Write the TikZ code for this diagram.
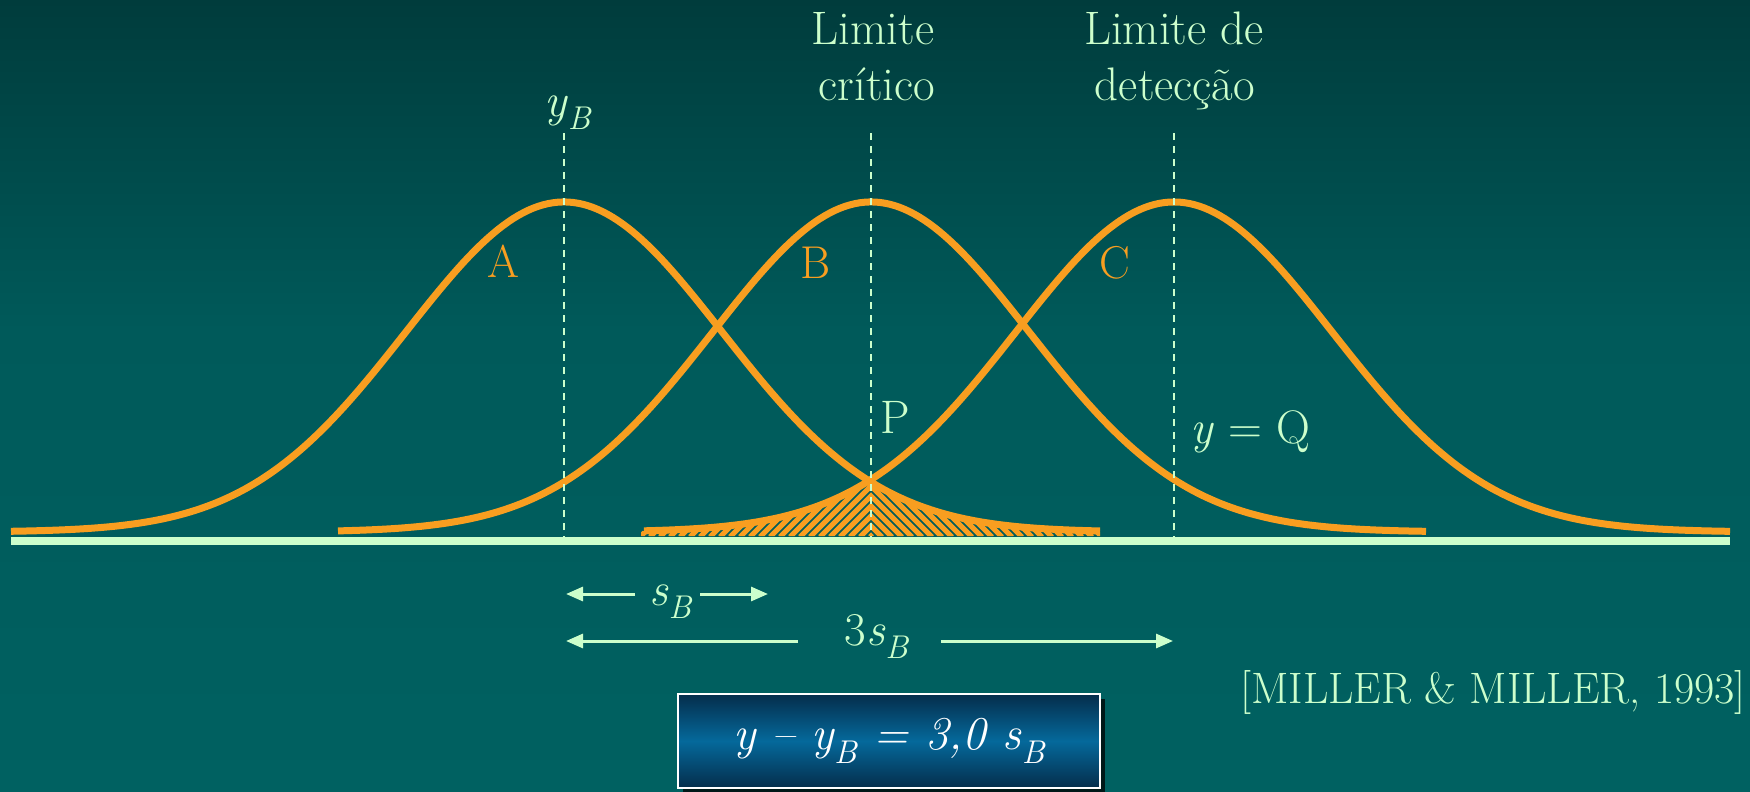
\documentclass[tikz,border=0pt]{standalone}
\usetikzlibrary{arrows.meta,shadows}
\definecolor{bgtop}{RGB}{0,60,60}
\definecolor{bgmid}{RGB}{0,90,90}
\definecolor{bgbot}{RGB}{0,97,97}
\definecolor{orng}{RGB}{248,158,32}
\definecolor{lightg}{RGB}{204,255,204}
\definecolor{boxtop}{RGB}{5,45,75}
\definecolor{boxmid}{RGB}{5,105,155}
\newcommand{\itsub}[2]{\textit{#1}\textsubscript{\textit{#2}}}
\tikzset{
  lbl/.style={text=lightg, inner sep=0pt, font=\fontsize{47}{55}\selectfont},
  curvelbl/.style={text=orng, inner sep=0pt, font=\fontsize{46}{54}\selectfont},
  bell/.style={draw=orng, line width=7pt, line join=round},
  hatchln/.style={draw=orng, line width=5pt},
  dashln/.style={draw=lightg, line width=2pt, dash pattern=on 7pt off 6pt},
  axisln/.style={draw=lightg, line width=8pt},
  dimarrow/.style={draw=lightg, line width=3pt, -{Triangle[length=17pt,width=14pt]}},
  eqbox/.style={draw=white, line width=1.5pt, top color=boxtop, bottom color=boxtop,
    middle color=boxmid, minimum width=422pt, minimum height=94pt, inner sep=0pt,
    text=white, font=\fontsize{47}{54}\selectfont\itshape,
    drop shadow={shadow xshift=5pt, shadow yshift=-5pt, fill=black, opacity=0.75}}
}
\begin{document}
\begin{tikzpicture}[x=1pt,y=-1pt]
% background
\shade[top color=bgtop, bottom color=bgmid] (0,0) rectangle (1750,331);
\shade[top color=bgmid, bottom color=bgbot] (0,330) rectangle (1750,792);
\useasboundingbox (0,0) rectangle (1750,792);

% hatched area under the crossing of A and C
\begin{scope}
  \clip plot[domain=641:871, samples=80] (\x, {532-330*exp(-0.5*((\x-1174)/158)^2)}) -- (871,536) -- (641,536) -- cycle;
  \foreach \s in {560,570,...,880} \draw[hatchln] (\s,537) -- ++(80,-80);
\end{scope}
\begin{scope}
  \clip plot[domain=871:1100, samples=80] (\x, {532-330*exp(-0.5*((\x-564)/158)^2)}) -- (1100,536) -- (871,536) -- cycle;
  \foreach \s in {862,872,...,1190} \draw[hatchln] (\s,537) -- ++(-80,-80);
\end{scope}

% bell curves
\draw[bell] plot[domain=11:1100, samples=220] (\x, {532-330*exp(-0.5*((\x-564)/158)^2)});
\draw[bell] plot[domain=338:1426, samples=220] (\x, {532-330*exp(-0.5*((\x-871)/158)^2)});
\draw[bell] plot[domain=644:1730, samples=220] (\x, {532-330*exp(-0.5*((\x-1174)/158)^2)});

% axis
\coordinate (axL) at (11,541);
\coordinate (axR) at (1730,541);
\draw[axisln] (axL) -- (axR);

% dashed guide lines
\coordinate (yBtop) at (564,133);  \coordinate (yBbot) at (564,537);
\coordinate (crtop) at (871,133);  \coordinate (crbot) at (871,537);
\coordinate (dttop) at (1174,133); \coordinate (dtbot) at (1174,537);
\draw[dashln] (yBtop) -- (yBbot);
\draw[dashln] (crtop) -- (crbot);
\draw[dashln] (dttop) -- (dtbot);

% top labels
\node[lbl, anchor=base] (yB) at (568,116) {\itsub{y}{B}};
\node[lbl, anchor=base] (crit1) at (873,45) {Limite};
\node[lbl, anchor=base] (crit2) at (877,100) {crítico};
\node[lbl, anchor=base] (det1) at (1174,45) {Limite de};
\node[lbl, anchor=base] (det2) at (1175,100) {detecção};

% curve labels
\node[curvelbl, anchor=base] (lA) at (503,277) {A};
\node[curvelbl, anchor=base] (lB) at (816,278) {B};
\node[curvelbl, anchor=base] (lC) at (1115,278) {C};
\node[lbl, anchor=base west] (lP) at (880,433) {P};
\node[lbl, anchor=base west] (lQ) at (1190,443) {\textit{y} = Q};

% s_B arrows
\node[lbl, anchor=base] (sB) at (671,605) {\itsub{s}{B}};
\coordinate (sBlt) at (635,594); \coordinate (sBlh) at (566,594);
\coordinate (sBrt) at (700,594); \coordinate (sBrh) at (768,594);
\draw[dimarrow] (sBlt) -- (sBlh);
\draw[dimarrow] (sBrt) -- (sBrh);

% 3 s_B arrows
\node[lbl, anchor=base] (tsB) at (877,645) {3\itsub{s}{B}};
\coordinate (tsBlt) at (798,641); \coordinate (tsBlh) at (566,641);
\coordinate (tsBrt) at (941,641); \coordinate (tsBrh) at (1173,641);
\draw[dimarrow] (tsBlt) -- (tsBlh);
\draw[dimarrow] (tsBrt) -- (tsBrh);

% citation
\node[lbl, anchor=base east, font=\fontsize{44}{50}\selectfont] (cite) at (1746,703) {[MILLER \& MILLER, 1993]};

% equation box
\node[eqbox] (eq) at (889,741) {y – y\textsubscript{B} = 3,0 s\textsubscript{B}};
\end{tikzpicture}
\end{document}
